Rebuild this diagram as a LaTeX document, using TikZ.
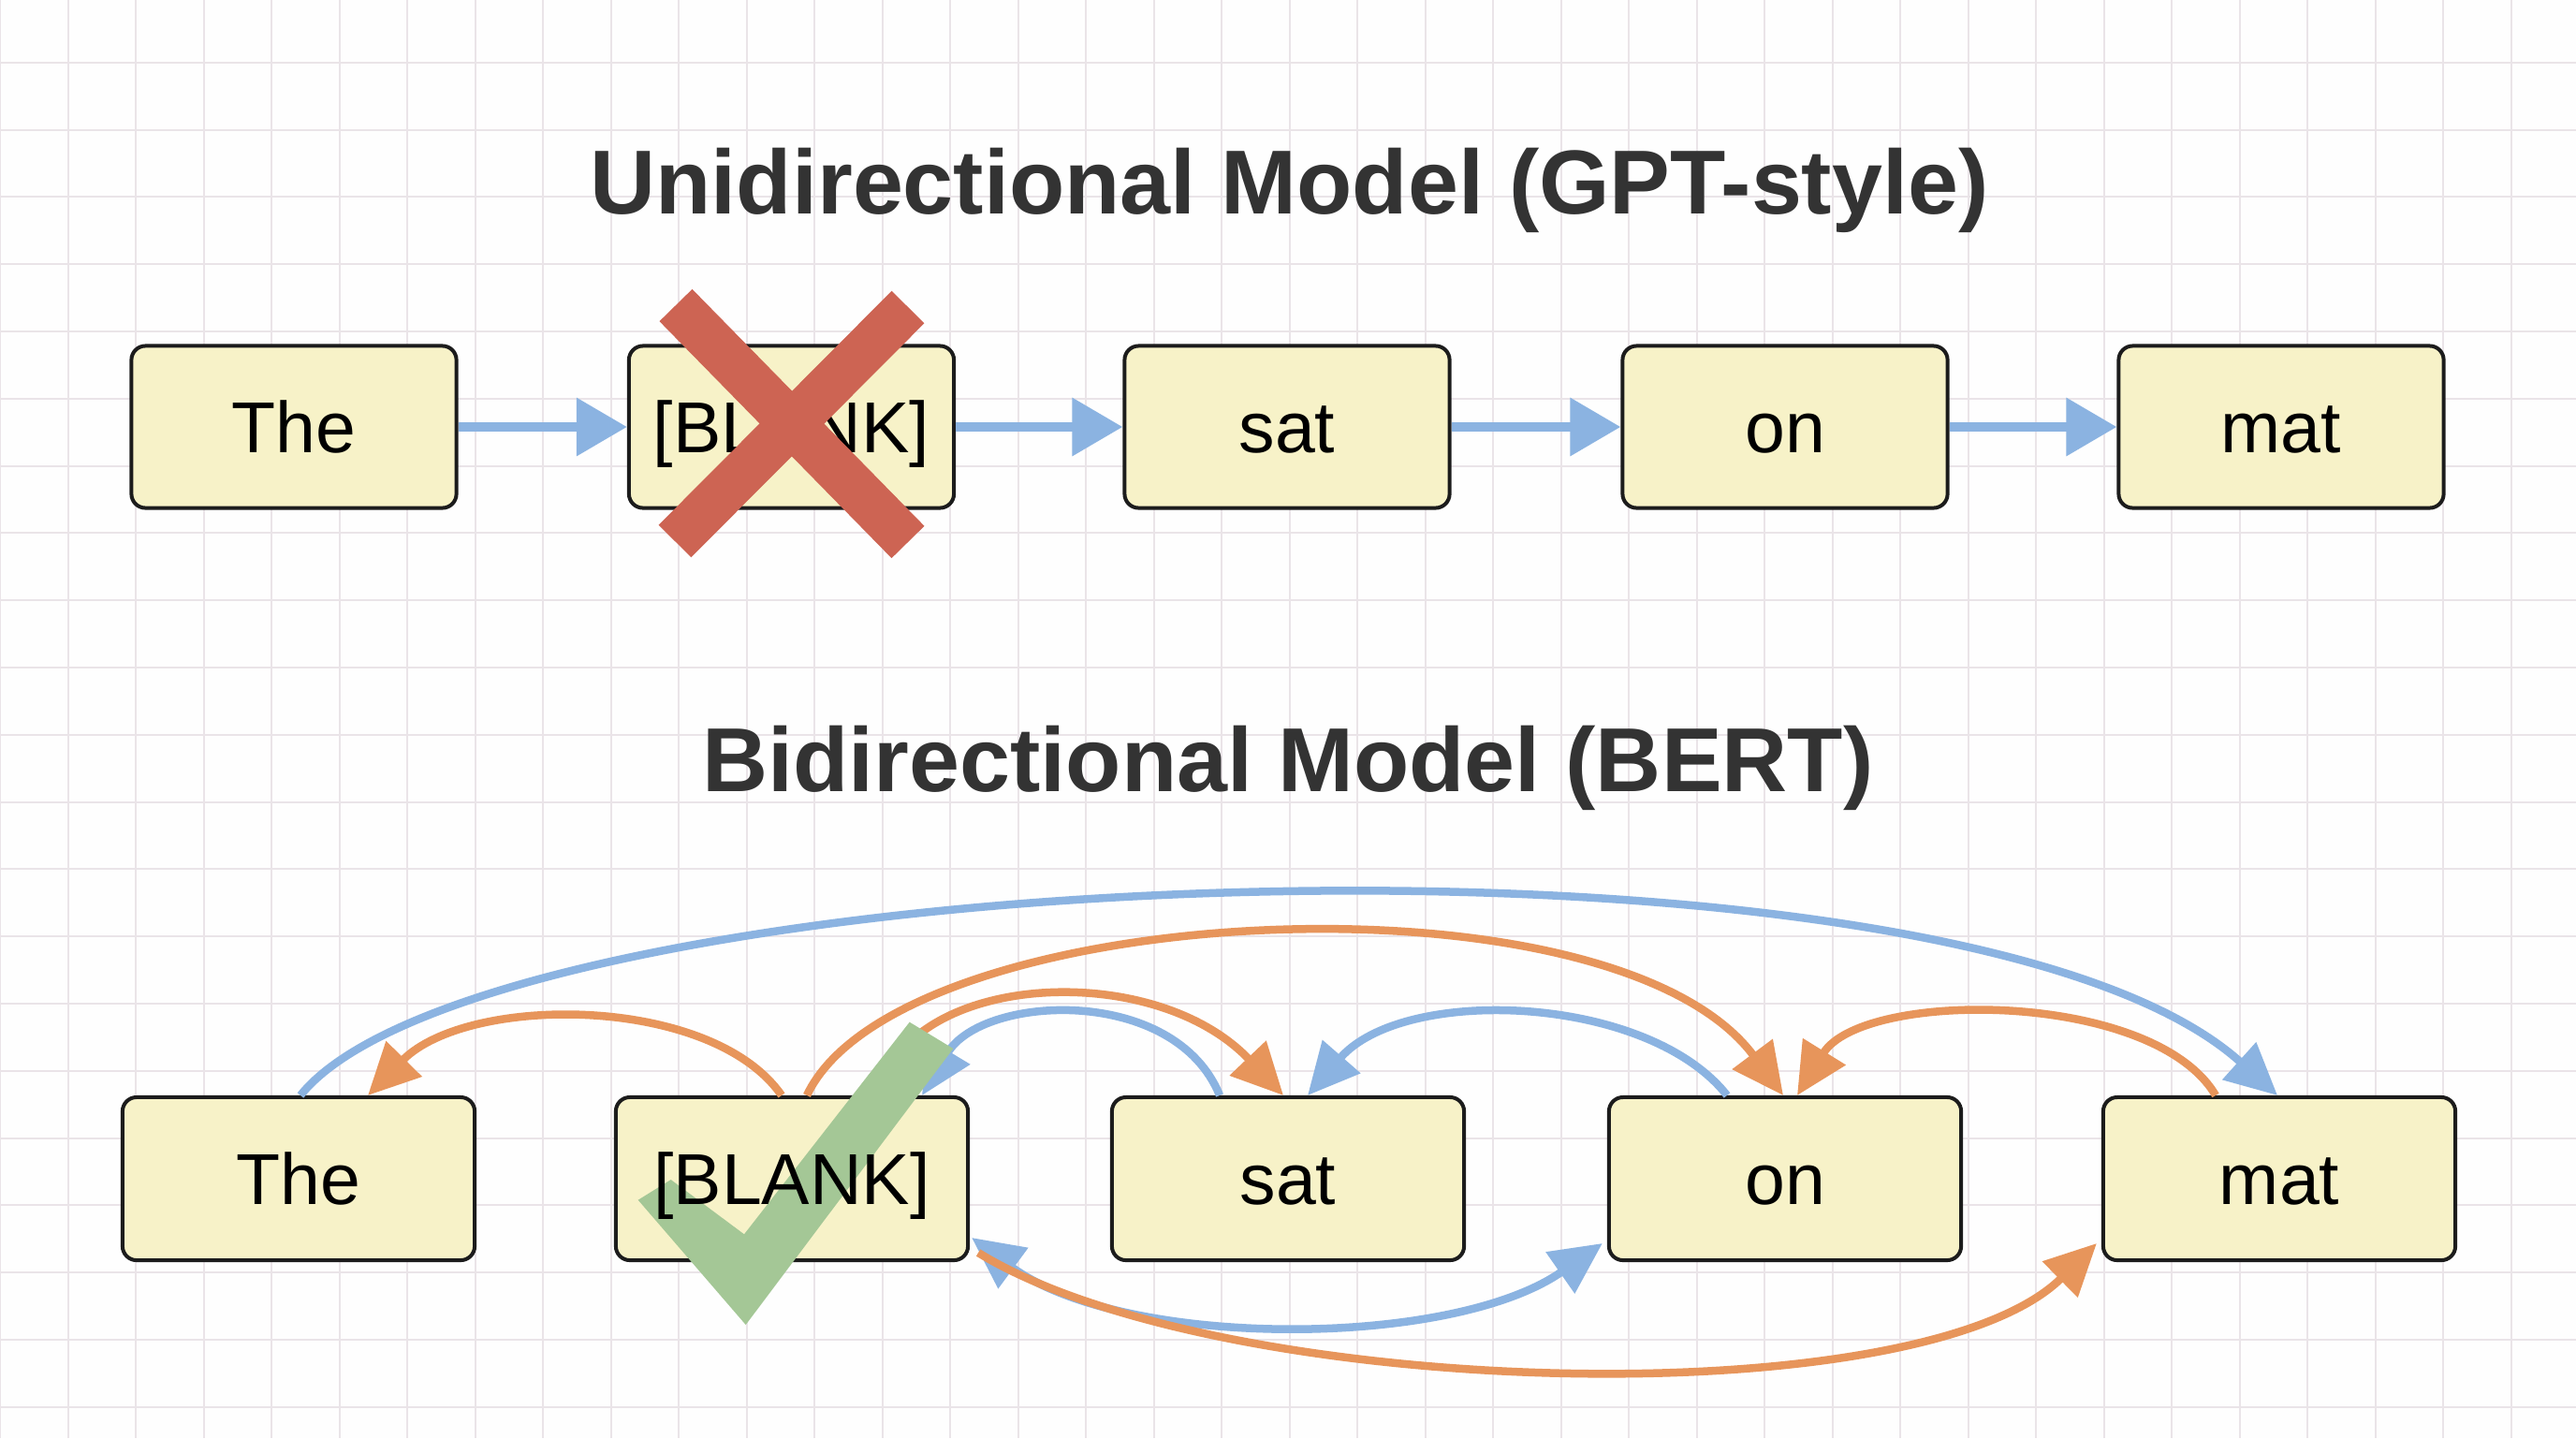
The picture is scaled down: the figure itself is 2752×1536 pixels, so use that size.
\documentclass[tikz,border=0pt]{standalone}
\usepackage{fontspec}
\setmainfont{Liberation Sans}
\usetikzlibrary{arrows.meta,calc}
\definecolor{bgc}{HTML}{FEFEFE}
\definecolor{gridc}{HTML}{EAE4E8}
\definecolor{boxfill}{HTML}{F7F2C8}
\definecolor{boxdraw}{HTML}{1C1C1C}
\definecolor{bluec}{HTML}{8BB3E1}
\definecolor{orangec}{HTML}{E7955B}
\definecolor{redx}{HTML}{CD6453}
\definecolor{greenc}{HTML}{A4C796}
\definecolor{titlec}{HTML}{333333}
\newcommand\mywordfont{\fontsize{21.9pt}{26pt}\selectfont}
\newcommand\mytitlefont{\fontsize{27.6pt}{33pt}\selectfont\bfseries}
\begin{document}
\begin{tikzpicture}[x=0.01cm,y=-0.01cm,
  gridline/.style={draw=gridc,line width=0.02cm},
  titletext/.style={font=\mytitlefont,text=titlec,inner sep=0pt},
  wordtext/.style={font=\mywordfont,text=black,text height=15.7pt,text depth=0pt,inner sep=0pt},
  tbox/.style={wordtext,draw=boxdraw,fill=boxfill,line width=0.04cm,rounded corners=0.15cm,minimum width=3.47cm,minimum height=1.73cm},
  bbox/.style={wordtext,draw=boxdraw,fill=boxfill,line width=0.04cm,rounded corners=0.15cm,minimum width=3.76cm,minimum height=1.74cm},
  toparrow/.style={draw=bluec,line width=0.1cm,-{Triangle[length=0.54cm,width=0.6cm]}},
  arcb/.style={draw=bluec,line width=0.085cm,-{Triangle[length=0.55cm,width=0.52cm]}},
  arco/.style={draw=orangec,line width=0.085cm,-{Triangle[length=0.55cm,width=0.52cm]}},
  arcbb/.style={draw=bluec,line width=0.085cm,{Triangle[length=0.55cm,width=0.52cm]}-{Triangle[length=0.55cm,width=0.52cm]}},
  xstroke/.style={draw=redx,line width=0.49cm,line cap=butt}
]
\useasboundingbox (0,0) rectangle (2752,1536);
\fill[bgc] (0,0) rectangle (2752,1536);
\foreach \k in {0,...,37} \draw[gridline] (72.5*\k,0) -- (72.5*\k,1536);
\foreach \k in {1,...,21} \draw[gridline] (0,-5.1+71.8*\k) -- (2752,-5.1+71.8*\k);

% titles
\node[titletext,anchor=base] (title1) at (1377.5,228) {Unidirectional Model (GPT-style)};
\node[titletext,anchor=base] (title2) at (1376,845) {Bidirectional Model (BERT)};

% top row
\node[tbox] (t1) at (314,456) {The};
\node[tbox] (t2) at (845.5,456) {[BLANK]};
\node[tbox] (t3) at (1375,456) {sat};
\node[tbox] (t4) at (1907,456) {on};
\node[tbox] (t5) at (2437,456) {mat};
\draw[toparrow] (t1) -- (t2);
\draw[toparrow] (t2) -- (t3);
\draw[toparrow] (t3) -- (t4);
\draw[toparrow] (t4) -- (t5);
\draw[xstroke] (722,326) -- (970,579);
\draw[xstroke] (970,328) -- (721,578);

% bottom row
\node[bbox] (b1) at (319,1259) {The};
\node[bbox] (b2) at (846,1259) {};
\node[bbox] (b3) at (1376,1259) {sat};
\node[bbox] (b4) at (1907,1259) {on};
\node[bbox] (b5) at (2435,1259) {mat};

% arcs above
\draw[arcb] ($(b1.north)+(2,0)$) .. controls +(199,-248) and +(-353,-318) .. ($(b5.north)+(-2,0)$);
\draw[arco] ($(b2.north)+(-11,0)$) .. controls +(-75,-108) and +(107,-108) .. ($(b1.north)+(74,0)$);
\draw[arco] ($(b2.north)+(16,0)$) .. controls +(98,-208) and +(-185,-248) .. ($(b4.north)+(-2,0)$);
\draw[arco] ($(b2.north)+(94,0)$) .. controls +(25,-130) and +(-141,-148) .. ($(b3.north)+(-5,0)$);
\draw[arcb] ($(b3.north)+(-73,0)$) .. controls +(-48,-118) and +(65,-108) .. ($(b2.north)+(139,0)$);
\draw[arcb] ($(b4.north)+(-62,0)$) .. controls +(-85,-108) and +(103,-118) .. ($(b3.north)+(21,0)$);
\draw[arco] ($(b5.north)+(-68,0)$) .. controls +(-67,-113) and +(70,-113) .. ($(b4.north)+(13,0)$);

% arcs below
\draw[arcbb] ($(b2.east)+(2,63)$) .. controls +(162,119) and +(-162,113) .. ($(b4.west)+(-5,69)$);
\draw[arco] ($(b2.east)+(9,79)$) .. controls +(255,157) and +(-190,187) .. ($(b5.west)+(-5,69)$);

% check mark and text over it
\fill[greenc] (681.7,1281.7) -- (716.7,1260) -- (795,1318.3) -- (971.7,1091.7) -- (1018.3,1120) -- (796.7,1415) -- cycle;
\node[wordtext] (b2text) at (b2) {[BLANK]};
\end{tikzpicture}
\end{document}
